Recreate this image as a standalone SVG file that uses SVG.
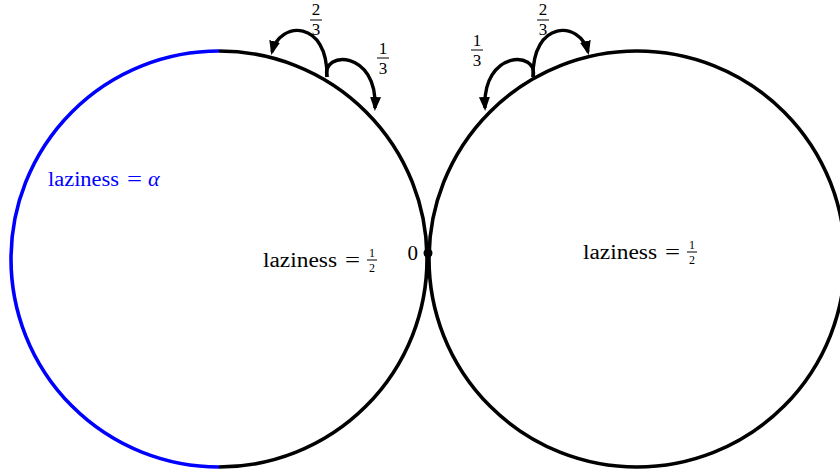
<svg xmlns="http://www.w3.org/2000/svg" width="840" height="474" viewBox="0 0 840 474">
<style>
.c{fill:none;stroke:#000;stroke-width:3.6}
.a{fill:none;stroke:#000;stroke-width:3.4;marker-end:url(#ah)}
.lab{font-size:20px}
.eq{font-size:22px}
.fr{font-size:12px;text-anchor:middle}
.fb{font-size:17px;text-anchor:middle}
.bar{stroke:#000;stroke-width:1}
.blue{fill:#0000ff}
</style>
<defs>
<marker id="ah" markerUnits="userSpaceOnUse" viewBox="0 0 14 12" refX="11" refY="6" markerWidth="14" markerHeight="12" orient="auto">
<path d="M0,0.5 L14,6 L0,11.5 Z" fill="#000"/>
</marker>
</defs>
<g id="circles">
<g id="left-circle">
<path d="M219,51 A208,208 0 0 0 219,467" fill="none" stroke="#0000ff" stroke-width="3.6"/>
<path class="c" d="M219,51 A208,208 0 0 1 219,467"/>
</g>
<g id="right-circle">
<circle class="c" cx="637" cy="259" r="208"/>
</g>
</g>
<g id="connectors">
<path class="a" d="M327,77 C321,50 378,50 375,108"/>
<path class="a" d="M327,77 C328,20 280,20 272,52"/>
<path class="a" d="M533,77 C539,50 482,50 485,108"/>
<path class="a" d="M533,77 C532,20 580,20 588,52"/>
</g>
<g font-family="Liberation Serif, DejaVu Serif, serif" fill="#000">
<g id="zero">
<circle cx="428" cy="253" r="4.5" fill="#000"/>
<text x="418" y="260" font-size="21" text-anchor="end">0</text>
</g>
<g id="label-alpha">
<text class="lab blue" x="48" y="186" textLength="71" lengthAdjust="spacingAndGlyphs">laziness</text>
<text class="eq blue" x="127" y="186" textLength="15" lengthAdjust="spacingAndGlyphs">=</text>
<text class="eq blue" x="148" y="186" font-style="italic">α</text>
</g>
<g id="label-left">
<text class="lab" x="263" y="267" textLength="74" lengthAdjust="spacingAndGlyphs">laziness</text>
<text class="eq" x="345" y="267" textLength="15" lengthAdjust="spacingAndGlyphs">=</text>
<text class="fr" x="372" y="257">1</text>
<line class="bar" x1="367" y1="260" x2="377" y2="260"/>
<text class="fr" x="372" y="272">2</text>
</g>
<g id="label-right">
<text class="lab" x="583" y="259" textLength="74" lengthAdjust="spacingAndGlyphs">laziness</text>
<text class="eq" x="665" y="259" textLength="15" lengthAdjust="spacingAndGlyphs">=</text>
<text class="fr" x="692" y="249">1</text>
<line class="bar" x1="687" y1="252" x2="697" y2="252"/>
<text class="fr" x="692" y="264">2</text>
</g>
<g id="frac-left-23">
<text class="fb" x="316" y="15">2</text>
<line class="bar" x1="310" y1="20" x2="322" y2="20"/>
<text class="fb" x="316" y="35">3</text>
</g>
<g id="frac-left-13">
<text class="fb" x="383" y="54">1</text>
<line class="bar" x1="377" y1="58" x2="389" y2="58"/>
<text class="fb" x="383" y="74">3</text>
</g>
<g id="frac-right-13">
<text class="fb" x="477" y="46">1</text>
<line class="bar" x1="471" y1="50" x2="483" y2="50"/>
<text class="fb" x="477" y="66">3</text>
</g>
<g id="frac-right-23">
<text class="fb" x="543" y="15">2</text>
<line class="bar" x1="537" y1="20" x2="549" y2="20"/>
<text class="fb" x="543" y="35">3</text>
</g>
</g>
</svg>
